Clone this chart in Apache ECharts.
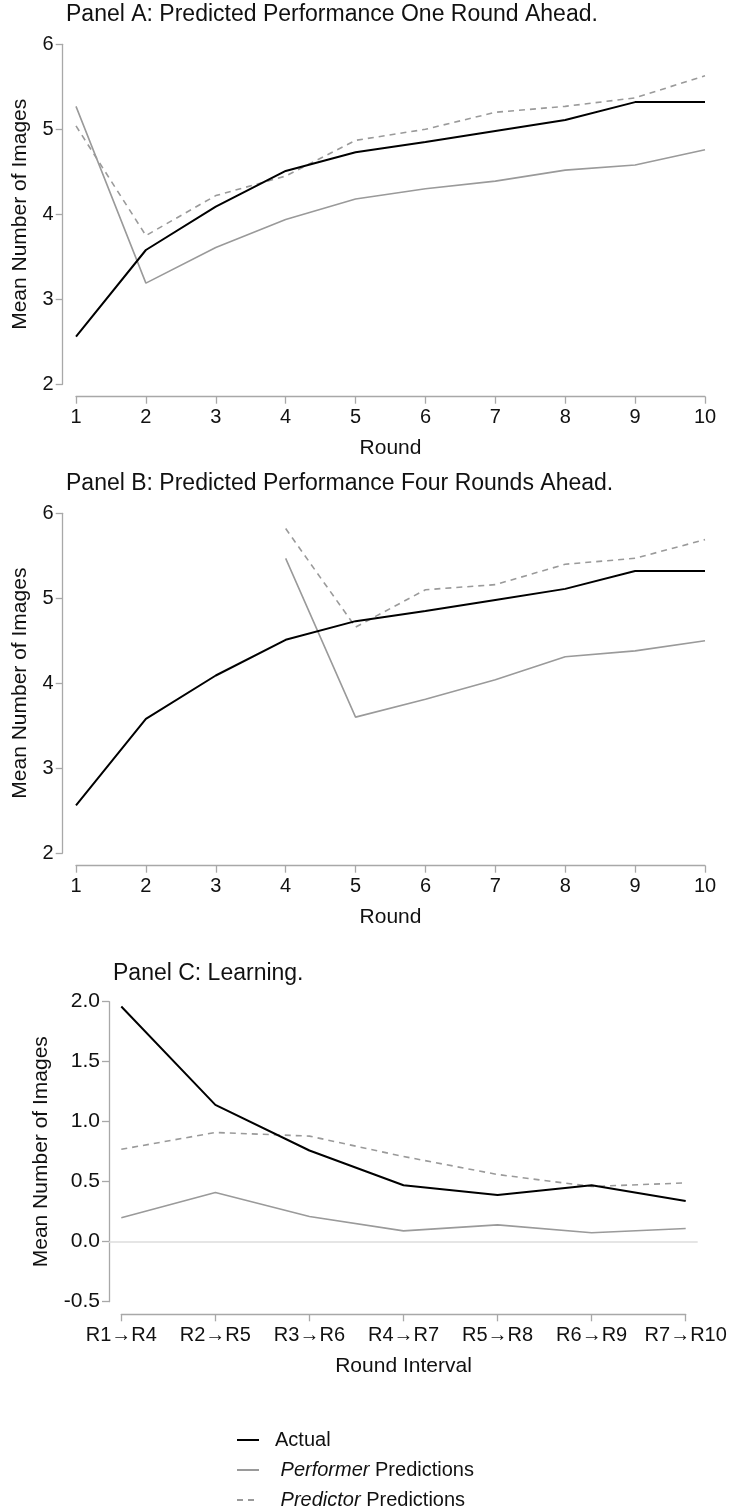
<!DOCTYPE html>
<html>
<head>
<meta charset="utf-8">
<script src="https://cdn.jsdelivr.net/npm/echarts@6/dist/echarts.min.js"></script>
<style>
html,body{margin:0;padding:0;background:#fff;}
#chart{width:733px;height:1511px;}
</style>
</head>
<body>
<div id="chart"></div>
<script>
// ---- data ----
const rounds = [1, 2, 3, 4, 5, 6, 7, 8, 9, 10];
const actual = [2.56, 3.58, 4.09, 4.51, 4.73, 4.85, 4.98, 5.11, 5.32, 5.32];
const performerOne = [5.27, 3.19, 3.61, 3.94, 4.18, 4.30, 4.39, 4.52, 4.58, 4.76];
const predictorOne = [5.04, 3.75, 4.22, 4.45, 4.87, 5.00, 5.20, 5.27, 5.37, 5.63];
const performerFour = [null, null, null, 5.47, 3.60, 3.81, 4.04, 4.31, 4.38, 4.50];
const predictorFour = [null, null, null, 5.82, 4.66, 5.10, 5.16, 5.40, 5.47, 5.69];
const intervals = ['R1\u2192R4', 'R2\u2192R5', 'R3\u2192R6', 'R4\u2192R7', 'R5\u2192R8', 'R6\u2192R9', 'R7\u2192R10'];
const learnActual = [1.96, 1.14, 0.76, 0.47, 0.39, 0.47, 0.34];
const learnPerformer = [0.20, 0.41, 0.21, 0.09, 0.14, 0.075, 0.11];
const learnPredictor = [0.77, 0.91, 0.88, 0.71, 0.56, 0.46, 0.49];
const zeroRef = [0];
const seriesNames = ['Actual', 'Performer Predictions', 'Predictor Predictions'];

// ---- styles ----
const FONT = '"Liberation Sans", Arial, Helvetica, sans-serif';
const AXIS_COLOR = '#a8a8a8';
const TEXT = '#111';
const GRAY = '#9a9a9a';

function pairs(xs, ys) { return xs.map((x, i) => [x, ys[i]]); }

function roundXAxis(gi, off) {
  return {
    gridIndex: gi, type: 'value', min: 1, max: 10, interval: 1, offset: off,
    name: 'Round', nameLocation: 'middle', nameGap: 41,
    nameTextStyle: {fontFamily: FONT, fontSize: 21, color: TEXT},
    axisLine: {show: true, onZero: false, lineStyle: {color: AXIS_COLOR, width: 1.3}},
    axisTick: {show: true, length: 7, lineStyle: {color: AXIS_COLOR, width: 1.3}},
    axisLabel: {margin: 11, fontFamily: FONT, fontSize: 20, color: TEXT},
    splitLine: {show: false}
  };
}
function imgYAxis(gi, min, max, interval, off, gap, fs, dec) {
  return {
    gridIndex: gi, type: 'value', min: min, max: max, interval: interval, offset: off,
    name: 'Mean Number of Images', nameLocation: 'middle', nameRotate: 90, nameGap: gap,
    nameTextStyle: {fontFamily: FONT, fontSize: 21, color: TEXT},
    axisLine: {show: true, onZero: false, lineStyle: {color: AXIS_COLOR, width: 1.3}},
    axisTick: {show: true, length: 7, lineStyle: {color: AXIS_COLOR, width: 1.3}},
    axisLabel: {margin: 9, fontFamily: FONT, fontSize: fs, color: TEXT,
      formatter: v => dec ? v.toFixed(1) : String(v)},
    splitLine: {show: false}
  };
}
function lineSeries(name, kind, xi, data) {
  const style = kind === 'actual'
    ? {color: '#000', width: 2, type: 'solid'}
    : kind === 'performer'
      ? {color: GRAY, width: 1.6, type: 'solid'}
      : {color: GRAY, width: 1.6, type: [6, 5]};
  return {
    name: name, type: 'line', xAxisIndex: xi, yAxisIndex: xi, data: data,
    symbol: 'none', showSymbol: false, connectNulls: false, silent: true,
    lineStyle: style, itemStyle: {color: style.color}, z: kind === 'actual' ? 4 : 3,
    emphasis: {disabled: true}, animation: false
  };
}

const titleStyle = {fontFamily: FONT, fontSize: 23, fontWeight: 'normal', color: TEXT};

const option = {
  animation: false,
  backgroundColor: '#fff',
  title: [
    {text: 'Panel A: Predicted Performance One Round Ahead.', left: 66, top: 3, textStyle: titleStyle, padding: 0},
    {text: 'Panel B: Predicted Performance Four Rounds Ahead.', left: 66, top: 472, textStyle: titleStyle, padding: 0},
    {text: 'Panel C: Learning.', left: 113, top: 962, textStyle: titleStyle, padding: 0}
  ],
  grid: [
    {left: 76, top: 44.3, width: 629, height: 340},
    {left: 76, top: 513.3, width: 629, height: 339.7},
    {left: 121.3, top: 1001.7, width: 564.4, height: 300},
    {left: 109, top: 1001.7, width: 588.7, height: 300}
  ],
  xAxis: [
    roundXAxis(0, 12.4),
    roundXAxis(1, 12.7),
    {
      gridIndex: 2, type: 'category', data: intervals, boundaryGap: false, offset: 12.6,
      name: 'Round Interval', nameLocation: 'middle', nameGap: 41,
      nameTextStyle: {fontFamily: FONT, fontSize: 21, color: TEXT},
      axisLine: {show: true, onZero: false, lineStyle: {color: AXIS_COLOR, width: 1.3}},
      axisTick: {show: true, length: 7, alignWithLabel: true, lineStyle: {color: AXIS_COLOR, width: 1.3}},
      axisLabel: {margin: 11, fontFamily: FONT, fontSize: 20, color: TEXT, interval: 0},
      splitLine: {show: false}
    },
    {gridIndex: 3, type: 'value', min: 0, max: 1, show: false}
  ],
  yAxis: [
    imgYAxis(0, 2, 6, 1, 13.3, 32, 20, false),
    imgYAxis(1, 2, 6, 1, 13.3, 32, 20, false),
    imgYAxis(2, -0.5, 2, 0.5, 12.3, 57, 21, true),
    {gridIndex: 3, type: 'value', min: -0.5, max: 2, show: false}
  ],
  legend: {
    orient: 'vertical', left: 236, top: 1430, padding: 0, height: 81,
    itemWidth: 22, itemHeight: 14, itemGap: 10,
    data: seriesNames, selectedMode: false,
    itemStyle: {opacity: 0},
    formatter: function (name) {
      if (name === 'Actual') return '{s|}Actual';
      const parts = name.split(' ');
      return '{s|} {i|' + parts[0] + '} ' + parts.slice(1).join(' ');
    },
    textStyle: {
      fontFamily: FONT, fontSize: 20, color: TEXT, lineHeight: 20,
      rich: {
        s: {width: 11},
        i: {fontFamily: FONT, fontSize: 20, fontStyle: 'italic', color: TEXT}
      }
    }
  },
  series: [
    {
      name: 'zero', type: 'line', xAxisIndex: 3, yAxisIndex: 3, data: [], silent: true, z: 1,
      markLine: {
        symbol: 'none', silent: true, animation: false, label: {show: false},
        lineStyle: {color: '#dcdcdc', type: 'solid', width: 1.5},
        data: zeroRef.map(v => ({yAxis: v}))
      }
    },
    lineSeries(seriesNames[1], 'performer', 0, pairs(rounds, performerOne)),
    lineSeries(seriesNames[2], 'predictor', 0, pairs(rounds, predictorOne)),
    lineSeries(seriesNames[0], 'actual', 0, pairs(rounds, actual)),
    lineSeries(seriesNames[1], 'performer', 1, pairs(rounds, performerFour)),
    lineSeries(seriesNames[2], 'predictor', 1, pairs(rounds, predictorFour)),
    lineSeries(seriesNames[0], 'actual', 1, pairs(rounds, actual)),
    lineSeries(seriesNames[1], 'performer', 2, learnPerformer),
    lineSeries(seriesNames[2], 'predictor', 2, learnPredictor),
    lineSeries(seriesNames[0], 'actual', 2, learnActual)
  ]
};

const chart = echarts.init(document.getElementById('chart'), null, {renderer: 'canvas'});
chart.setOption(option);
</script>
</body>
</html>
